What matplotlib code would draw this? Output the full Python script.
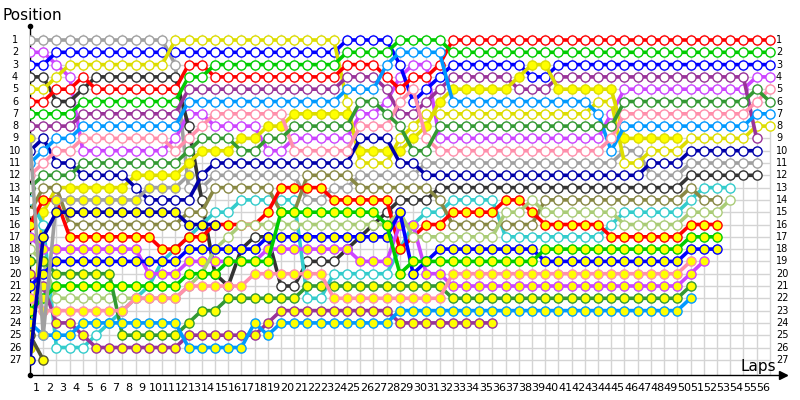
import matplotlib
matplotlib.use("Agg")
import matplotlib.pyplot as plt

# ---- data: running position per lap (index = lap, starting with lap 0 = grid) ----
gray_o   = [1,1,1,1,1,1,1,1,1,1,1,3,13,13,12,12,12,12,12,12,12,14,14,13,13,12,12,12,12,12,
            11,11,11,11,11,11,11,11,11,11,11,11,11,11,11,10,10,12,12,12,11,11,11,11,11,11]
violet_o = [2,2,3,4,10,10,10,10,10,10,10,9,7,7,8,8,8,8,10,10,9,9,9,9,9,7,7,6,4,3,3,
            9,9,9,9,9,9,9,9,9,9,9,9,9,7,5,5,5,5,5,5,5,5,5,5,4,4]
blue_o   = [3,3,2,2,2,2,2,2,2,2,2,2,2,2,2,2,2,2,2,2,2,2,2,2,1,1,1,1,3,6,5,4,3,3,3,3,3,3,4,4,
            3,3,3,3,3,3,3,3,3,3,3,3,3,3,3,3,3]
dark_o   = [4,4,6,6,5,4,4,4,4,4,4,4,8,14,20,21,18,17,17,21,21,19,19,19,18,17,16,15,14,14,14,
            13,13,13,13,13,13,13,13,13,13,13,13,13,13,13,13,13,13,13,12,12,12,12,12,12]
yellow_o = [5,5,4,3,3,3,3,3,3,3,3,1,1,1,1,1,1,1,1,1,1,1,1,1,6,11,11,11,9,8,7,7,
            7,7,7,7,7,7,7,7,7,7,7,6,6,11,11,10,10,10,9,9,9,9,9,8,8]
red_o    = [6,6,5,5,4,5,5,5,5,5,5,5,3,3,4,4,4,4,4,4,4,4,4,4,3,3,3,4,5,4,4,3,
            1,1,1,1,1,1,1,1,1,1,1,1,1,1,1,1,1,1,1,1,1,1,1,1,1]
green_o  = [7,7,7,7,6,6,6,6,6,6,6,6,4,4,3,3,3,3,3,3,3,3,3,3,2,2,2,2,1,1,1,1,
            2,2,2,2,2,2,2,2,2,2,2,2,2,2,2,2,2,2,2,2,2,2,2,2,2]
purple_o = [8,8,8,8,7,7,7,7,7,7,7,7,5,5,5,5,5,5,5,5,5,5,5,5,4,4,4,5,7,7,6,5,4,4,4,4,4,
            5,5,5,4,4,4,4,4,4,4,4,4,4,4,4,4,4,4,9]
yellow_f = [26,15,13,13,13,13,13,13,12,12,12,12,11,10,10,10,9,9,8,8,7,7,7,7,7,10,10,10,10,9,8,6,
            5,5,5,5,5,4,3,3,5,5,5,5,5,9,9,9,9,9]
navy_o   = [10,9,11,11,12,12,12,12,13,14,14,14,14,12,11,11,11,11,11,11,11,11,11,11,11,9,9,9,11,11,
            12,12,12,12,12,12,12,12,12,12,12,12,12,12,12,12,12,11,11,11,10,10,10,10,10,10]
lblue_o  = [11,10,9,9,8,8,8,8,8,8,8,8,6,6,6,6,6,6,6,6,6,6,6,6,5,5,5,3,2,2,2,2,
            6,6,6,6,6,6,6,6,6,6,6,7,10,8,8,8,8,8,8,8,8,8,8,7,7]
pink_o   = [12,11,10,10,9,9,9,9,9,9,9,10,9,8,7,7,7,7,7,7,10,10,10,10,10,8,8,8,6,5,9,
            10,10,10,10,10,10,10,10,10,10,10,10,10,9,7,7,7,7,7,7,7,7,7,7,6,5]
dgreen_o = [13,12,12,12,11,11,11,11,11,11,11,11,10,9,9,9,10,10,9,9,8,8,8,8,8,6,6,7,8,10,10,
            8,8,8,8,8,8,8,8,8,8,8,8,8,8,6,6,6,6,6,6,6,6,6,6,5,6]
cyan_o   = [14,16,26,26,26,25,24,23,22,21,19,18,17,16,15,15,14,14,14,14,14,22,22,20,20,20,20,20,18,16,
            15,15,14,14,14,14,17,17,17,17,17,17,17,17,16,15,15,15,15,15,14,13,13,13]
olive_o  = [15,13,13,16,16,16,16,16,16,16,16,16,15,15,13,13,13,13,13,15,15,12,12,12,12,13,13,13,13,13,
            13,14,16,16,16,16,16,16,16,14,14,14,14,14,14,14,14,14,14,14,13,14,14]
red_f    = [16,14,14,17,17,17,17,17,17,17,18,18,17,17,16,16,16,16,15,13,13,13,13,14,14,14,14,14,18,17,
            16,16,15,15,15,15,14,14,15,16,16,16,16,16,17,17,17,17,17,17,16,16,16]
violet_f = [17,18,18,18,18,18,18,18,18,20,20,20,19,19,19,19,19,19,18,18,18,18,18,18,18,19,19,19,16,16,
            20,20,21,21,21,21,21,21,21,21,21,21,21,21,21,21,21,21,21,21,20,19]
lgreen_o = [18,19,22,22,22,22,22,22,22,22,22,22,21,20,18,17,16,16,16,16,16,16,16,16,16,16,16,16,15,17,
            17,17,17,17,17,17,15,15,14,15,15,15,15,15,15,16,16,16,16,16,15,15,15,14]
dgreen_f = [19,19,20,20,20,20,20,25,25,25,25,25,24,23,23,22,22,22,22,22,22,21,21,21,21,21,21,21,21,21,
            21,21,22,22,22,22,22,22,22,22,22,22,22,22,22,22,22,22,22,22,21]
purple_f = [20,21,24,24,25,26,26,26,26,26,26,26,25,25,25,25,25,25,24,23,23,23,23,23,23,23,23,23,24,24,
            24,24,24,24,24,24]
blue_f   = [21,20,19,19,19,19,19,19,19,19,19,19,18,18,18,18,18,18,17,17,17,17,17,17,17,17,17,17,15,20,
            19,18,18,18,18,18,18,18,18,19,19,19,19,19,19,19,19,19,19,19,18,18,18]
pink_f   = [22,23,23,23,23,23,23,23,22,22,22,22,21,21,21,21,21,20,20,20,20,20,20,22,22,22,22,22,22,22,
            22,22,20,20,20,20,20,20,20,20,20,20,20,20,20,20,20,20,20,20,19]
green_f  = [23,22,21,21,21,21,21,21,21,21,21,21,20,20,20,19,19,19,19,15,15,15,15,15,15,15,15,16,20,19,
            19,19,19,19,19,19,19,19,19,18,18,18,18,18,18,18,18,18,18,18,17,17,17]
lblue_f  = [24,25,25,25,24,24,24,24,24,24,24,24,26,26,26,26,26,24,25,24,24,24,24,24,24,24,24,24,23,23,
            23,23,23,23,23,23,23,23,23,23,23,23,23,23,23,23,23,23,23,23,22]
dark_f   = [25,27]
gray_f   = [9,25,14,14,14,14,14,14,14,13,13,13,12]
navy_f   = [27,17,15,15,15,15,15,15,15,15,15,15,16,16,16]

series = [gray_o, violet_o, blue_o, dark_o, yellow_o, red_o, green_o, purple_o, yellow_f,
          navy_o, lblue_o, pink_o, dgreen_o, cyan_o, olive_o, red_f, violet_f, lgreen_o,
          dgreen_f, purple_f, blue_f, pink_f, green_f, lblue_f, dark_f, gray_f, navy_f]
colors = ["#a0a0a0", "#cc44ff", "#0000ff", "#333333", "#dddd00", "#ff0000", "#00cc00", "#993399",
          "#dddd00", "#0000aa", "#0099ff", "#ff8fab", "#339933", "#33cccc", "#888844", "#ff0000",
          "#cc44ff", "#aacc77", "#339933", "#993399", "#0000ff", "#ff8fab", "#00cc00", "#0099ff",
          "#555533", "#a0a0a0", "#0000aa"]
filled = [False]*8 + [True] + [False]*6 + [True, True, False] + [True]*9

n_laps = 56
n_pos = 27
lap_labels = [str(i) for i in range(1, n_laps + 1)]
pos_labels = [str(i) for i in range(1, n_pos + 1)]

# ---- figure ----
W, H = 800, 400
fig = plt.figure(figsize=(8, 4), dpi=100)
left_px, right_px, top_px, bot_px = 30, 790, 25, 375
ax = fig.add_axes([left_px / W, 1 - bot_px / H, (right_px - left_px) / W, (bot_px - top_px) / H])
dx = 13.21   # px per lap
dy = 12.3    # px per position
xmax = (right_px - left_px) / dx
ytop = 1 + (top_px - 40) / dy
ybot = 1 + (bot_px - 40) / dy
ax.set_xlim(0, xmax)
ax.set_ylim(ybot, ytop)
ax.axis("off")

grid_c = "#d4d4d4"
for L in range(0, n_laps + 1):
    ax.plot([L, L], [0.55, ybot], color=grid_c, lw=1.0, zorder=1, solid_capstyle="butt")
for p in range(1, n_pos + 1):
    ax.plot([0, n_laps], [p, p], color=grid_c, lw=1.0, zorder=1, solid_capstyle="butt")

# axes lines
ax.plot([0, 0], [ybot, ytop + 0.05], color="black", lw=1.0, zorder=5, clip_on=False)
ax.plot([0, xmax - 0.3], [ybot, ybot], color="black", lw=1.0, zorder=5, clip_on=False)
ax.plot([0], [ytop + 0.05], marker="o", ms=3, color="black", zorder=6, clip_on=False)
ax.plot([0], [ybot], marker="o", ms=3, color="black", zorder=6, clip_on=False)
ax.plot([xmax - 0.5], [ybot], marker=">", ms=6, color="black", zorder=6, clip_on=False)

z = 10
for s, c, f in zip(series, colors, filled):
    laps = list(range(len(s)))
    ax.plot(laps, s, color=c, lw=2.6, zorder=z, solid_joinstyle="round", solid_capstyle="round")
    ax.plot(laps, s, linestyle="none", marker="o", ms=6.6, mew=1.0, mec=c,
            mfc="#ffff00" if f else "white", zorder=z + 1)
    z += 2

# tick labels
for i, t in enumerate(pos_labels):
    p = i + 1
    ax.text((15 - left_px) / dx, p, t, ha="center", va="center", fontsize=7, clip_on=False)
    ax.text((776 - left_px) / dx, p, t, ha="left", va="center", fontsize=7, clip_on=False)
for i, t in enumerate(lap_labels):
    ax.text(i + 0.5, 1 + (388 - 40) / dy, t, ha="center", va="center", fontsize=8, clip_on=False)

fig.text(2 / W, 1 - 15 / H, "Position", fontsize=11, va="center", ha="left")
fig.text(776 / W, 1 - 366 / H, "Laps", fontsize=11, va="center", ha="right")

fig.savefig("out.png", dpi=100)
